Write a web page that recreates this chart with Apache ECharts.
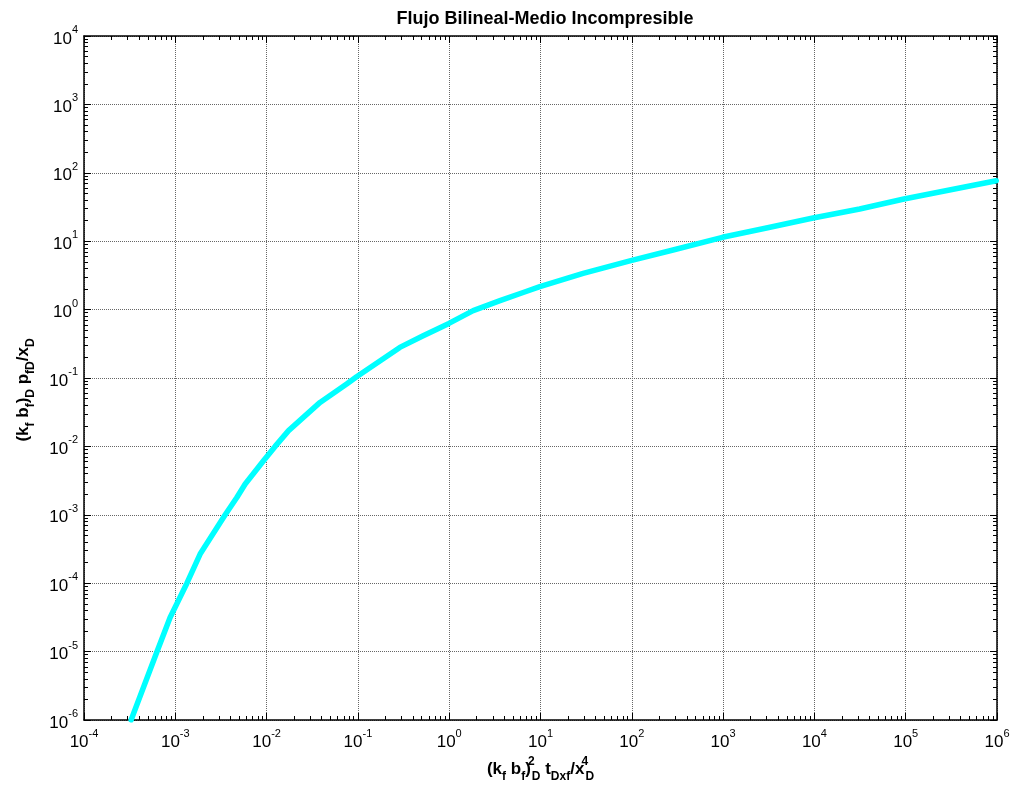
<!DOCTYPE html>
<html>
<head>
<meta charset="utf-8">
<script src="https://cdn.jsdelivr.net/npm/echarts@6/dist/echarts.min.js"></script>
<style>
html,body{margin:0;padding:0;background:#fff;}
#chart{width:1013px;height:792px;}
</style>
</head>
<body>
<div id="chart"></div>
<script>
// ---- data ----
const titleText = 'Flujo Bilineal-Medio Incompresible';
const xDecades = [-4, -3, -2, -1, 0, 1, 2, 3, 4, 5, 6];
const yDecades = [-6, -5, -4, -3, -2, -1, 0, 1, 2, 3, 4];
const minorMultipliers = [2, 3, 4, 5, 6, 7, 8, 9];
const xValues = [3.28e-4, 6.31e-4, 8.77e-4, 1.34e-3, 1.87e-3, 3.52e-3, 4.72e-3, 5.83e-3, 9.25e-3, 1.24e-2,
  1.74e-2, 3.85e-2, 7.53e-2, 9.68e-2, 0.288, 0.519, 0.993, 1.83, 3.60, 6.46,
  9.84, 29.3, 97.5, 283, 984, 2985, 9660, 31300, 95700, 982000];
const yValues = [1e-6, 1e-5, 3.16e-5, 1e-4, 2.67e-4, 1e-3, 1.79e-3, 2.82e-3, 6.18e-3, 1e-2,
  1.70e-2, 4.40e-2, 8.17e-2, 0.1045, 0.280, 0.415, 0.628, 0.964, 1.35, 1.78,
  2.16, 3.38, 5.19, 7.43, 11.4, 15.6, 21.8, 29.6, 41.4, 76.6];

// ---- helpers ----
function minorTicks(decs) {
  const out = [];
  for (let i = 0; i < decs.length - 1; i++) {
    for (const m of minorMultipliers) out.push(m * Math.pow(10, decs[i]));
  }
  return out;
}
const majorX = xDecades.map(e => Math.pow(10, e));
const majorY = yDecades.map(e => Math.pow(10, e));
const minorX = minorTicks(xDecades);
const minorY = minorTicks(yDecades);

const FONT = '"Liberation Sans", Arial, sans-serif';
const labelRich = {
  b: { fontSize: 17, fontFamily: FONT, color: '#000', lineHeight: 23, verticalAlign: 'bottom' },
  s: { fontSize: 11, fontFamily: FONT, color: '#000', lineHeight: 11, verticalAlign: 'top' }
};
function expLabel(v) {
  const e = Math.round(Math.log10(v));
  return '{b|10}{s|' + e + '}';
}
const nameRich = {
  m: { fontSize: 17, fontWeight: 'bold', fontFamily: FONT, color: '#000', lineHeight: 27, verticalAlign: 'middle' },
  sb: { fontSize: 12, fontWeight: 'bold', fontFamily: FONT, color: '#000', lineHeight: 12, verticalAlign: 'bottom' },
  sp: { fontSize: 12, fontWeight: 'bold', fontFamily: FONT, color: '#000', lineHeight: 12, verticalAlign: 'top', width: 1, align: 'left' }
};

const xMin = majorX[0], xMax = majorX[majorX.length - 1];
const yMin = majorY[0], yMax = majorY[majorY.length - 1];

function baseAxis(min, max, pos, opts) {
  return Object.assign({
    type: 'log', logBase: 10, min: min, max: max, position: pos,
    axisLine: { show: false },
    axisLabel: { show: false },
    axisTick: { show: false },
    splitLine: { show: false },
    minorTick: { show: false },
    minorSplitLine: { show: false }
  }, opts || {});
}
const gridLine = { show: true, lineStyle: { color: '#666', type: [1, 1], width: 1 } };
const frameLine = { show: true, onZero: false, lineStyle: { color: '#000', width: 1.5 } };

const chart = echarts.init(document.getElementById('chart'), null, { renderer: 'canvas' });
const option = {
  backgroundColor: '#fff',
  animation: false,
  title: {
    text: titleText, left: 540, textAlign: 'center', top: 5,
    textStyle: { fontSize: 18, fontWeight: 'bold', fontFamily: FONT, color: '#000' }
  },
  grid: { left: 84, right: 16, top: 36, bottom: 72, containLabel: false },
  xAxis: [
    baseAxis(xMin, xMax, 'bottom', {
      interval: 1, splitNumber: 10,
      axisLine: frameLine,
      axisTick: { show: true, inside: true, length: 7, customValues: majorX, lineStyle: { color: '#000' } },
      axisLabel: { show: true, margin: 8, customValues: majorX, formatter: expLabel, rich: labelRich },
      splitLine: gridLine,
      name: '{m|(k}{sb|f}{m| b}{sb|f}{m|)}{sp|2}{sb|D}{m| t}{sb|Dxf}{m|/x}{sp|4}{sb|D}',
      nameLocation: 'middle', nameGap: 36,
      nameTextStyle: { rich: nameRich }
    }),
    baseAxis(xMin, xMax, 'bottom', {
      axisTick: { show: true, inside: true, length: 4, customValues: minorX, lineStyle: { color: '#000' } }
    }),
    baseAxis(xMin, xMax, 'top', {
      axisLine: frameLine,
      axisTick: { show: true, inside: true, length: 7, customValues: majorX, lineStyle: { color: '#000' } }
    }),
    baseAxis(xMin, xMax, 'top', {
      axisTick: { show: true, inside: true, length: 4, customValues: minorX, lineStyle: { color: '#000' } }
    })
  ],
  yAxis: [
    baseAxis(yMin, yMax, 'left', {
      interval: 1, splitNumber: 10,
      axisLine: frameLine,
      axisTick: { show: true, inside: true, length: 7, customValues: majorY, lineStyle: { color: '#000' } },
      axisLabel: { show: true, margin: 6, customValues: majorY, formatter: expLabel, rich: labelRich },
      splitLine: gridLine,
      name: '{m|(k}{sb|f}{m| b}{sb|f}{m|)}{sb|D}{m| p}{sb|fD}{m|/x}{sb|D}',
      nameLocation: 'middle', nameGap: 47, nameRotate: 90,
      nameTextStyle: { rich: nameRich, padding: [0, 24, 0, 0] }
    }),
    baseAxis(yMin, yMax, 'left', {
      axisTick: { show: true, inside: true, length: 4, customValues: minorY, lineStyle: { color: '#000' } }
    }),
    baseAxis(yMin, yMax, 'right', {
      axisLine: frameLine,
      axisTick: { show: true, inside: true, length: 7, customValues: majorY, lineStyle: { color: '#000' } }
    }),
    baseAxis(yMin, yMax, 'right', {
      axisTick: { show: true, inside: true, length: 4, customValues: minorY, lineStyle: { color: '#000' } }
    })
  ],
  series: [{
    type: 'line',
    xAxisIndex: 0, yAxisIndex: 0,
    data: xValues.map((x, i) => [x, yValues[i]]),
    showSymbol: false,
    smooth: false,
    lineStyle: { color: '#00ffff', width: 5.5, join: 'round', cap: 'round' },
    itemStyle: { color: '#00ffff' },
    clip: true
  }]
};
chart.setOption(option);
</script>
</body>
</html>
